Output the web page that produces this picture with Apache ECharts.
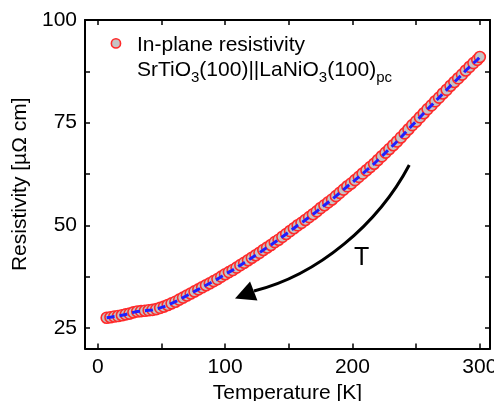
<!DOCTYPE html>
<html>
<head>
<meta charset="utf-8">
<script src="https://cdn.jsdelivr.net/npm/echarts@6/dist/echarts.min.js"></script>
<style>
html,body{margin:0;padding:0;background:#fff;}
#chart{width:494px;height:401px;}
</style>
</head>
<body>
<div id="chart"></div>
<script>
// Temperature [K]
var temperature = [7,10,13,16,19,22,25,28,31,34,37,40,43,46,49,52,55,58,61,64,67,70,73,76,79,82,85,88,91,94,97,100,
103,106,109,112,115,118,121,124,127,130,133,136,139,142,145,148,151,154,157,160,163,166,169,172,175,178,181,184,187,190,
193,196,199,202,205,208,211,214,217,220,223,226,229,232,235,238,241,244,247,250,253,256,259,262,265,268,271,274,277,280,
283,286,289,292,295,298,300];
// Resistivity [µΩ cm]
var resistivity = [27.5,27.6,27.8,27.9,28.1,28.3,28.5,28.8,29.0,29.1,29.2,29.3,29.4,29.6,29.9,30.2,30.6,31.0,31.4,31.9,32.4,32.9,33.4,33.9,34.4,34.9,35.4,35.9,36.4,36.9,37.5,38.1,
38.6,39.1,39.7,40.3,40.9,41.5,42.1,42.7,43.3,44.0,44.6,45.2,45.9,46.5,47.2,47.9,48.6,49.3,50.0,50.6,51.3,52.0,52.7,53.4,54.2,54.9,55.6,56.3,57.1,57.9,
58.7,59.5,60.2,61.0,61.8,62.6,63.4,64.2,65.0,65.9,66.8,67.7,68.6,69.5,70.4,71.4,72.4,73.4,74.4,75.3,76.3,77.3,78.3,79.2,80.2,81.1,82.1,83.0,84.0,84.9,
85.8,86.7,87.7,88.6,89.5,90.3,91.0];
var xTickValues = [0,50,100,150,200,250,300];
var xLabelValues = [0,100,200,300];
var yTickValues = [25,37.5,50,62.5,75,87.5,100];
var yLabelValues = [25,50,75,100];
var legendLine1 = 'In-plane resistivity';
var legendLine2 = '{m|SrTiO}{s|3}{m|(100)||LaNiO}{s|3}{m|(100)}{s|pc}';
var arrowLabel = 'T';

var FONT = "'Liberation Sans', Arial, Helvetica, sans-serif";
var pts = temperature.map(function(t,i){return [t, resistivity[i]];});

var chart = echarts.init(document.getElementById('chart'), null, {renderer:'canvas'});

function tickStyle(){return {show:true,inside:true,length:5,lineStyle:{color:'#000',width:1.5}};}
var axisLine = {show:true,onZero:false,lineStyle:{color:'#000',width:2}};

chart.setOption({
  animation:false,
  backgroundColor:'#fff',
  grid:{left:85,right:4,top:20,bottom:52.5,containLabel:false,outerBoundsMode:'none'},
  xAxis:[
    {type:'value',min:-10,max:308,position:'bottom',axisLine:axisLine,splitLine:{show:false},
     name:'Temperature [K]',nameLocation:'middle',nameGap:29,
     nameTextStyle:{fontFamily:FONT,fontSize:21,color:'#000'},
     axisTick:Object.assign(tickStyle(),{customValues:xTickValues}),
     axisLabel:{show:true,margin:8,fontFamily:FONT,fontSize:21,color:'#000',customValues:xLabelValues}},
    {type:'value',min:-10,max:308,position:'top',axisLine:axisLine,splitLine:{show:false},
     axisTick:Object.assign(tickStyle(),{customValues:xTickValues}),axisLabel:{show:false}}
  ],
  yAxis:[
    {type:'value',min:20,max:100,position:'left',axisLine:axisLine,splitLine:{show:false},
     name:'Resistivity [µΩ cm]',nameLocation:'middle',nameGap:52,
     nameTextStyle:{fontFamily:FONT,fontSize:21,color:'#000'},
     axisTick:Object.assign(tickStyle(),{customValues:yTickValues}),
     axisLabel:{show:true,margin:8,fontFamily:FONT,fontSize:21,color:'#000',customValues:yLabelValues}},
    {type:'value',min:20,max:100,position:'right',axisLine:axisLine,splitLine:{show:false},
     axisTick:Object.assign(tickStyle(),{customValues:yTickValues}),axisLabel:{show:false}}
  ],
  series:[
    {type:'scatter',name:legendLine1,xAxisIndex:0,yAxisIndex:0,data:pts,symbol:'circle',symbolSize:11,
     itemStyle:{color:'#c4c4c4',borderColor:'#ff2a2a',borderWidth:1.6,opacity:1},z:2},
    {type:'line',xAxisIndex:0,yAxisIndex:0,data:pts,showSymbol:false,symbol:'none',smooth:false,
     lineStyle:{color:'#1f1fff',width:3,type:[8,5]},z:3}
  ]
});

function px(t,r){return chart.convertToPixel({xAxisIndex:0,yAxisIndex:0},[t,r]);}
// arrow and annotation anchored in data space
var aStart = px(244.6,64.7), aC1 = px(220.1,50.3), aC2 = px(173.0,37.9), aEnd = px(122.7,34.0);
var tip = px(107.8,32.2), h1 = px(119.6,36.3), h2 = px(125.4,31.7);
var tPos = px(207.3,42.0);
var legCircle = px(14.3,94.3);
var leg1 = px(30.8,93.95);
var leg2 = px(30.8,90.4);

chart.setOption({
  graphic:[
    {type:'bezierCurve',shape:{x1:aStart[0],y1:aStart[1],cpx1:aC1[0],cpy1:aC1[1],cpx2:aC2[0],cpy2:aC2[1],x2:aEnd[0],y2:aEnd[1]},
     style:{stroke:'#000',lineWidth:3,fill:null},z:10},
    {type:'polygon',shape:{points:[tip,h1,h2]},style:{fill:'#000'},z:10},
    {type:'text',x:tPos[0],y:tPos[1],style:{text:arrowLabel,font:'25px '+FONT,fill:'#000',textAlign:'center',textVerticalAlign:'middle'},z:10},
    {type:'circle',shape:{cx:legCircle[0],cy:legCircle[1],r:4.6},style:{fill:'#c4c4c4',stroke:'#ff2a2a',lineWidth:1.6},z:10},
    {type:'text',x:leg1[0],y:leg1[1],style:{text:legendLine1,font:'21px '+FONT,fill:'#000',textAlign:'left',textVerticalAlign:'middle'},z:10},
    {type:'text',x:leg2[0],y:leg2[1],style:{text:legendLine2,font:'21px '+FONT,fill:'#000',textAlign:'left',textVerticalAlign:'top',
      rich:{
        m:{fontSize:21,fontFamily:FONT,fill:'#000',lineHeight:21,verticalAlign:'top'},
        s:{fontSize:15,fontFamily:FONT,fill:'#000',lineHeight:26,verticalAlign:'bottom'}
      }},z:10}
  ]
});
</script>
</body>
</html>
